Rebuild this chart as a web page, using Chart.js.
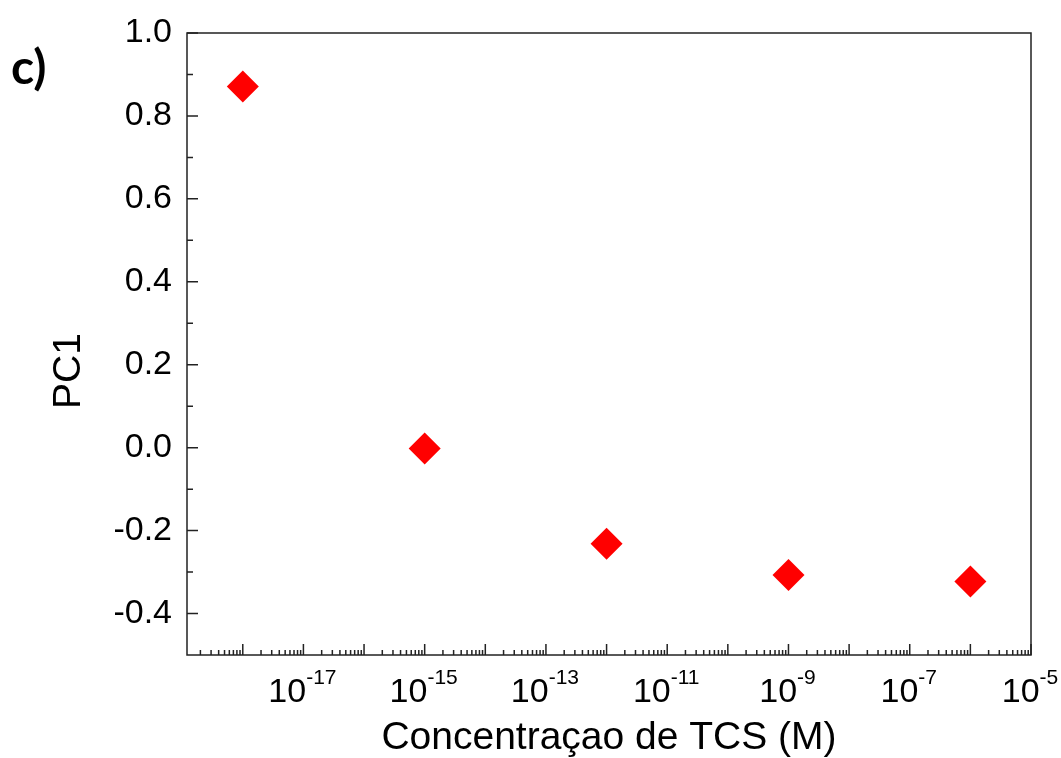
<!DOCTYPE html>
<html>
<head>
<meta charset="utf-8">
<script src="https://cdn.jsdelivr.net/npm/chart.js@4"></script>
<style>
   html, body { margin: 0; padding: 0; background: #fff; }
</style>
</head>
<body>
<canvas id="myChart" width="1061" height="758"></canvas>
<script>
// data
const concentrations = [1e-18, 1e-15, 1e-12, 1e-9, 1e-6];
const pc1Values = [0.871, -0.002, -0.232, -0.307, -0.323];

const yTickValues = [-0.4, -0.2, 0.0, 0.2, 0.4, 0.6, 0.8, 1.0];
const xTickExponents = [-17, -15, -13, -11, -9, -7, -5];

const panelLabel = 'c)';
const xTitle = 'Concentraçao de TCS (M)';
const yTitle = 'PC1';

const FONT = '"Liberation Sans", Arial, sans-serif';
const FRAME = '#222';

// frame, inward ticks, 10^n labels and panel letter
const axisDecor = {
   id: 'axisDecor',
   afterDraw(chart) {
      const ctx = chart.ctx;
      const area = chart.chartArea;
      const xs = chart.scales.x;
      const ys = chart.scales.y;

      ctx.save();
      ctx.strokeStyle = FRAME;
      ctx.lineWidth = 1.5;
      ctx.beginPath();

      yTickValues.forEach((v) => {
         const py = ys.getPixelForValue(v);
         ctx.moveTo(area.left, py);
         ctx.lineTo(area.left + 11, py);
         const m = v + 0.1;
         if (m < ys.max - 1e-9) {
            const pm = ys.getPixelForValue(m);
            ctx.moveTo(area.left, pm);
            ctx.lineTo(area.left + 6, pm);
         }
      });

      for (let e = -20; e <= -5; e++) {
         for (let k = 1; k <= 9; k++) {
            const v = k * Math.pow(10, e);
            if (v < xs.min || v > xs.max * 1.0001) continue;
            const px = xs.getPixelForValue(v);
            ctx.moveTo(px, area.bottom);
            ctx.lineTo(px, area.bottom - (k === 1 ? 11 : 5));
         }
      }
      ctx.stroke();

      ctx.strokeRect(area.left, area.top, area.right - area.left, area.bottom - area.top);

      ctx.fillStyle = '#000';
      ctx.textBaseline = 'alphabetic';
      ctx.textAlign = 'left';
      xTickExponents.forEach((e) => {
         const px = xs.getPixelForValue(Math.pow(10, e));
         ctx.font = '34px ' + FONT;
         const base = '10';
         const wb = ctx.measureText(base).width;
         ctx.font = '21px ' + FONT;
         const sup = String(e);
         const ws = ctx.measureText(sup).width;
         const x0 = px - (wb + ws) / 2 - 1;
         ctx.font = '34px ' + FONT;
         ctx.fillText(base, x0, 702);
         ctx.font = '21px ' + FONT;
         ctx.fillText(sup, x0 + wb, 684);
      });

      ctx.font = 'bold 48px Lato, "Open Sans", sans-serif';
      ctx.fillText(panelLabel, 11, 84);
      ctx.restore();
   },
};

const ctx = document.getElementById('myChart').getContext('2d');

new Chart(ctx, {
   type: 'scatter',
   data: {
      datasets: [
         {
            data: concentrations.map((c, i) => ({ x: c, y: pc1Values[i] })),
            pointStyle: 'rectRot',
            pointRadius: 16,
            pointHoverRadius: 16,
            backgroundColor: '#ff0000',
            borderColor: '#ff0000',
            borderWidth: 0,
         },
      ],
   },
   options: {
      responsive: false,
      animation: false,
      layout: {
         padding: { top: 33, right: 30, left: 0, bottom: 0 },
      },
      plugins: {
         legend: { display: false },
         tooltip: { enabled: false },
      },
      scales: {
         x: {
            type: 'logarithmic',
            min: Math.pow(10, -18.92),
            max: 1e-5,
            grid: { display: false, drawTicks: false },
            border: { display: false },
            ticks: { display: false },
            afterBuildTicks: (scale) => {
               scale.ticks = xTickExponents.map((e) => ({ value: Math.pow(10, e) }));
            },
            afterFit: (scale) => {
               scale.height = 103;
            },
            title: {
               display: true,
               text: xTitle,
               color: '#000',
               font: { family: FONT, size: 39, lineHeight: 1 },
               padding: { top: 0, bottom: 0 },
            },
         },
         y: {
            type: 'linear',
            min: -0.5,
            max: 1.0,
            grid: { display: false, drawTicks: false },
            border: { display: false },
            afterBuildTicks: (scale) => {
               scale.ticks = yTickValues.map((v) => ({ value: v }));
            },
            afterFit: (scale) => {
               scale.width = 187;
               scale.paddingTop = 0;
               scale.paddingBottom = 0;
            },
            ticks: {
               padding: 15,
               color: '#000',
               font: { family: FONT, size: 34 },
               callback: (v) => Number(v).toFixed(1),
            },
            title: {
               display: true,
               text: yTitle + '     ',
               color: '#000',
               font: { family: FONT, size: 39, lineHeight: 1 },
               padding: { top: 50, bottom: 0 },
            },
         },
      },
   },
   plugins: [axisDecor],
});
</script>
</body>
</html>
